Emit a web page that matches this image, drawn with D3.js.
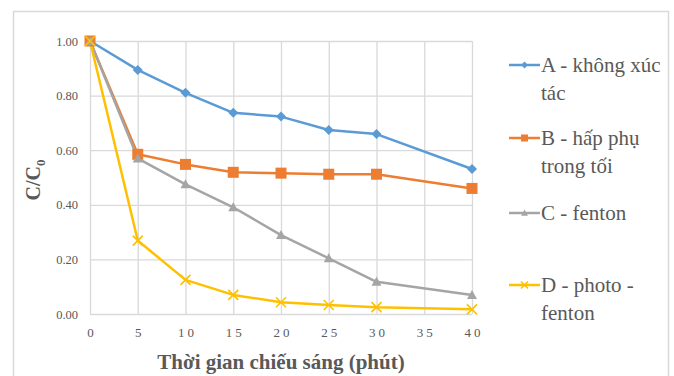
<!DOCTYPE html>
<html>
<head>
<meta charset="utf-8">
<script src="https://cdn.jsdelivr.net/npm/d3@7.9.0/dist/d3.min.js"></script>
<style>
  body { margin: 0; background: #fff; }
</style>
</head>
<body>
<svg id="chart" width="674" height="376"></svg>
<script>
const times = [0, 5, 10, 15, 20, 25, 30, 40];
const xTicks = [0, 5, 10, 15, 20, 25, 30, 35, 40];
const yTicks = [0, 0.2, 0.4, 0.6, 0.8, 1.0];

const seriesA = [1.00, 0.894, 0.81, 0.737, 0.723, 0.674, 0.659, 0.531];
const seriesB = [1.00, 0.585, 0.548, 0.519, 0.516, 0.512, 0.512, 0.46];
const seriesC = [1.00, 0.570, 0.475, 0.391, 0.289, 0.204, 0.118, 0.07];
const seriesD = [1.00, 0.269, 0.125, 0.07, 0.043, 0.033, 0.025, 0.017];

const names = ['A - không xúc|tác', 'B - hấp phụ|trong tối', 'C - fenton', 'D - photo -|fenton'];
const colors = ['#5B9BD5', '#ED7D31', '#A5A5A5', '#FFC000'];
const shapes = ['diamond', 'square', 'triangle', 'cross'];

const FONT = "'Liberation Serif', 'Times New Roman', serif";

const series = [seriesA, seriesB, seriesC, seriesD].map((vals, i) => ({
    name: names[i],
    color: colors[i],
    shape: shapes[i],
    points: vals.map((v, j) => ({ t: times[j], v })),
}));

const svg = d3.select('#chart')
    .attr('font-family', FONT)
    .style('font-family', FONT);

// outer frame
svg.append('rect')
    .attr('x', 13.5).attr('y', 11.5)
    .attr('width', 655).attr('height', 380)
    .attr('fill', '#fff')
    .attr('stroke', '#d9d9d9')
    .attr('stroke-width', 1.5);

const plot = { left: 90, right: 472, top: 41, bottom: 314 };

const x = d3.scaleLinear().domain([0, 40]).range([plot.left, plot.right]);
const y = d3.scaleLinear().domain([0, 1]).range([plot.bottom, plot.top]);

// gridlines
svg.append('g')
    .attr('transform', `translate(0, ${plot.bottom})`)
    .call(d3.axisBottom(x).tickValues(xTicks).tickFormat('').tickSize(-(plot.bottom - plot.top)))
    .call(g => g.select('.domain').remove())
    .call(g => g.selectAll('line').attr('stroke', '#d9d9d9').attr('stroke-width', 1.3));

svg.append('g')
    .attr('transform', `translate(${plot.left}, 0)`)
    .call(d3.axisLeft(y).tickValues(yTicks).tickFormat('').tickSize(-(plot.right - plot.left)))
    .call(g => g.select('.domain').remove())
    .call(g => g.selectAll('line').attr('stroke', '#d9d9d9').attr('stroke-width', 1.3));

// tick labels
svg.append('g')
    .attr('transform', `translate(0, ${plot.bottom})`)
    .call(d3.axisBottom(x).tickValues(xTicks).tickSize(0).tickPadding(14))
    .call(g => g.attr('font-family', FONT).select('.domain').remove())
    .call(g => g.selectAll('text')
        .style('font-family', FONT)
        .attr('font-size', 13)
        .attr('fill', '#595959')
        .attr('letter-spacing', '3px')
        .attr('dx', '1.5px'));

svg.append('g')
    .attr('transform', `translate(${plot.left}, 0)`)
    .call(d3.axisLeft(y).tickValues(yTicks).tickSize(0).tickPadding(12).tickFormat(d3.format('.2f')))
    .call(g => g.attr('font-family', FONT).select('.domain').remove())
    .call(g => g.selectAll('text')
        .style('font-family', FONT)
        .attr('font-size', 12.5)
        .attr('fill', '#595959'));

// axis titles
svg.append('text')
    .attr('x', (plot.left + plot.right) / 2)
    .attr('y', 369)
    .attr('text-anchor', 'middle')
    .style('font-family', FONT)
    .attr('font-weight', 'bold')
    .attr('font-size', 21)
    .attr('fill', '#595959')
    .text('Thời gian chiếu sáng (phút)');

const yTitle = svg.append('text')
    .attr('transform', 'translate(40, 180) rotate(-90)')
    .attr('text-anchor', 'middle')
    .style('font-family', FONT)
    .attr('font-weight', 'bold')
    .attr('font-size', 20)
    .attr('fill', '#595959');
yTitle.append('tspan').text('C/C');
yTitle.append('tspan').attr('font-size', 13).attr('dy', 5).text('0');

// marker drawing
function drawMarker(g, shape, color, s) {
    if (shape === 'diamond') {
        g.append('path')
            .attr('d', `M0,${-s} L${s},0 L0,${s} L${-s},0 Z`)
            .attr('fill', color);
    } else if (shape === 'square') {
        g.append('rect')
            .attr('x', -s).attr('y', -s)
            .attr('width', 2 * s).attr('height', 2 * s)
            .attr('fill', color);
    } else if (shape === 'triangle') {
        g.append('path')
            .attr('d', `M0,${-s} L${s},${s * 0.8} L${-s},${s * 0.8} Z`)
            .attr('fill', color);
    } else {
        g.append('path')
            .attr('d', `M${-s},${-s} L${s},${s} M${-s},${s} L${s},${-s}`)
            .attr('stroke', color)
            .attr('stroke-width', 1.6)
            .attr('fill', 'none');
    }
}

const line = d3.line()
    .x(d => x(d.t))
    .y(d => y(d.v));

series.forEach(s => {
    svg.append('path')
        .datum(s.points)
        .attr('d', line)
        .attr('fill', 'none')
        .attr('stroke', s.color)
        .attr('stroke-width', 2.5)
        .attr('stroke-linejoin', 'round');
});

series.forEach(s => {
    const size = s.shape === 'square' ? 5.5 : 5;
    svg.append('g')
        .selectAll('g')
        .data(s.points)
        .join('g')
        .attr('transform', d => `translate(${x(d.t)}, ${y(d.v)})`)
        .each(function () { drawMarker(d3.select(this), s.shape, s.color, size); });
});

// legend
const legendY = [65, 138, 213, 285];
const legend = svg.append('g');

series.forEach((s, i) => {
    const g = legend.append('g').attr('transform', `translate(509, ${legendY[i]})`);
    g.append('line')
        .attr('x1', 0).attr('x2', 31)
        .attr('stroke', s.color)
        .attr('stroke-width', 2.5);
    const mg = g.append('g').attr('transform', 'translate(15.5, 0)');
    drawMarker(mg, s.shape, s.color, 3.5);
    const t = g.append('text')
        .attr('x', 32)
        .attr('y', 7)
        .style('font-family', FONT)
        .attr('font-size', 21)
        .attr('fill', '#595959');
    s.name.split('|').forEach((part, k) => {
        t.append('tspan')
            .attr('x', 32)
            .attr('dy', k === 0 ? 0 : 28)
            .text(part);
    });
});
</script>
</body>
</html>
